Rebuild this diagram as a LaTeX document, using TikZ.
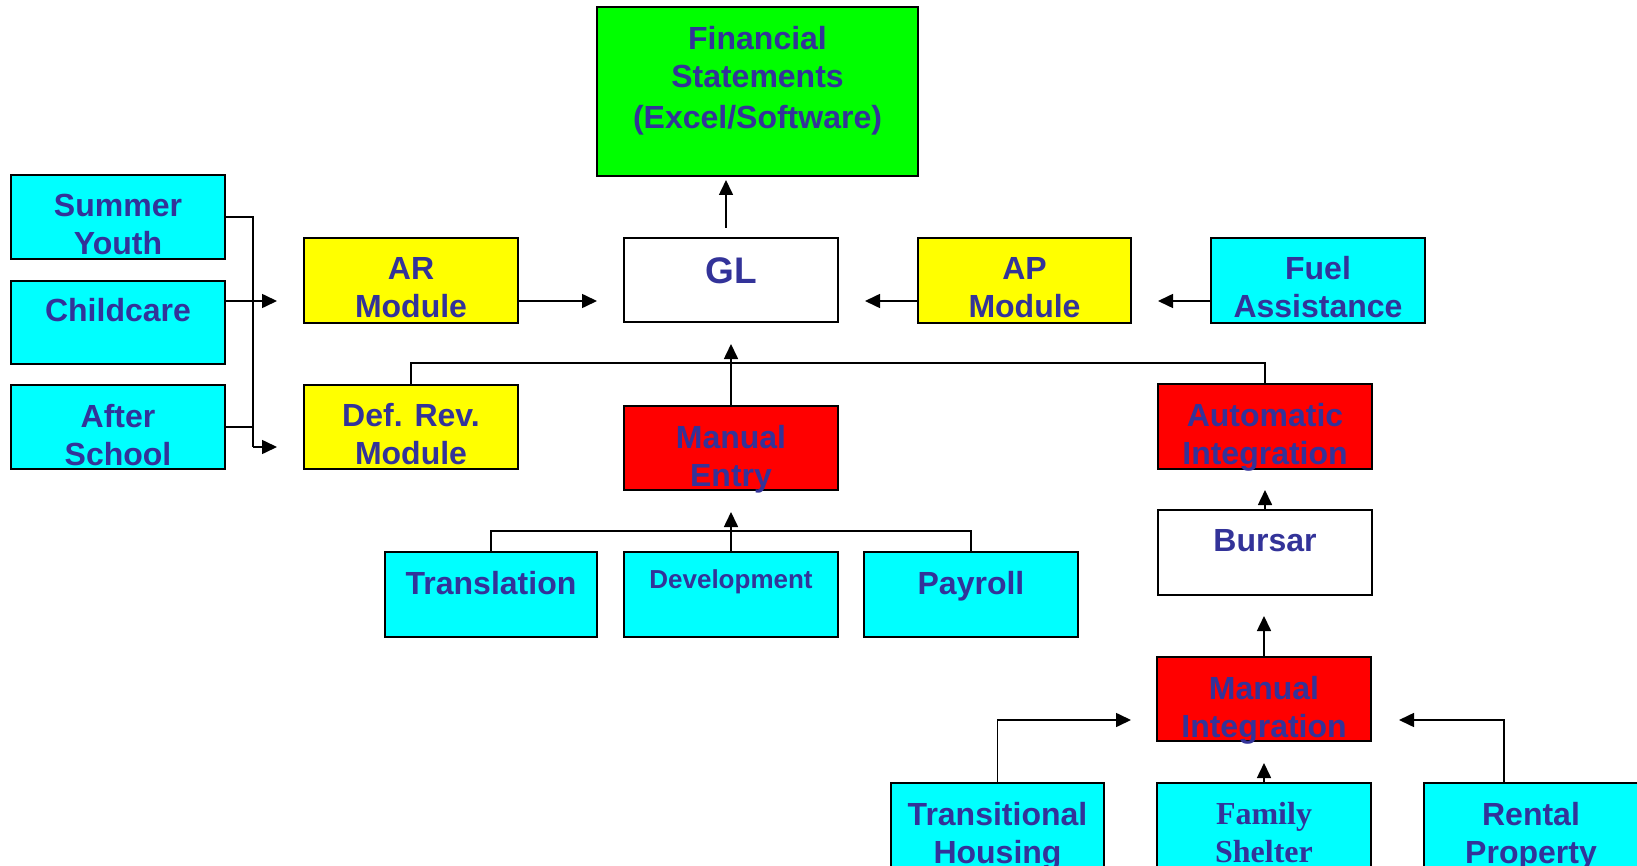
\documentclass[tikz,border=0pt]{standalone}
\usepackage{fontspec}
\setmainfont{Liberation Sans}
\newfontfamily\serifbold{Liberation Serif}
\usetikzlibrary{arrows.meta,calc}
\definecolor{txtblue}{RGB}{51,51,153}
\definecolor{boxcyan}{RGB}{0,255,255}
\definecolor{boxyellow}{RGB}{255,255,0}
\definecolor{boxgreen}{RGB}{0,255,0}
\definecolor{boxred}{RGB}{255,0,0}
\begin{document}
\begin{tikzpicture}[x=1pt,y=-1pt,
  box/.style={draw=black, line width=1.8pt, minimum width=214pt, minimum height=84pt, inner sep=0pt},
  lbl/.style={anchor=north, inner sep=0pt, align=center, text=txtblue, font=\fontsize{32}{38}\selectfont\bfseries},
  conn/.style={line width=1.6pt, draw=black},
  arr/.style={conn, -{Triangle[length=15pt,width=14pt]}},
]
\useasboundingbox (0,0) rectangle (1637,866);
\fill[white] (0,0) rectangle (1637,866);

% boxes
\node[box, fill=boxgreen, minimum width=321pt, minimum height=169pt] (fin) at (757.5,91.5) {};
\node[box, fill=boxcyan] (summer) at (118,217) {};
\node[box, fill=boxcyan, minimum height=83pt] (child) at (118,322.5) {};
\node[box, fill=boxcyan] (after) at (118,427) {};
\node[box, fill=boxyellow, minimum height=85pt] (ar) at (411,280.5) {};
\node[box, fill=white] (gl) at (731,280) {};
\node[box, fill=boxyellow, minimum width=213pt, minimum height=85pt] (ap) at (1024.5,280.5) {};
\node[box, fill=boxcyan, minimum height=85pt] (fuel) at (1318,280.5) {};
\node[box, fill=boxyellow] (defrev) at (411,427) {};
\node[box, fill=boxred] (mentry) at (731,448) {};
\node[box, fill=boxred, minimum height=85pt] (auto) at (1265,426.5) {};
\node[box, fill=white, minimum height=85pt] (bursar) at (1265,552.5) {};
\node[box, fill=boxcyan, minimum width=212pt, minimum height=85pt] (trans) at (491,594.5) {};
\node[box, fill=boxcyan, minimum height=85pt] (dev) at (731,594.5) {};
\node[box, fill=boxcyan, minimum height=85pt] (pay) at (971,594.5) {};
\node[box, fill=boxred] (minteg) at (1264,699) {};
\node[box, fill=boxcyan, minimum width=213pt, minimum height=85pt] (transh) at (997.5,825.5) {};
\node[box, fill=boxcyan, minimum height=85pt] (family) at (1264,825.5) {};
\node[box, fill=boxcyan, minimum height=85pt] (rental) at (1531,825.5) {};

% labels
\node[lbl] (finT) at ($(fin.north)+(0,20)$) {Financial\\Statements\\[3pt](Excel/Software)};
\node[lbl] (summerT) at ($(summer.north)+(0,20)$) {Summer\\Youth};
\node[lbl] (childT) at ($(child.north)+(0,18)$) {Childcare};
\node[lbl] (afterT) at ($(after.north)+(0,20)$) {After\\School};
\node[lbl] (arT) at ($(ar.north)+(0,20)$) {AR\\Module};
\node[lbl, font=\fontsize{37}{44}\selectfont\bfseries] (glT) at ($(gl.north)+(0,20)$) {GL};
\node[lbl] (apT) at ($(ap.north)+(0,20)$) {AP\\Module};
\node[lbl] (fuelT) at ($(fuel.north)+(0,19)$) {Fuel\\Assistance};
\node[lbl] (defrevT) at ($(defrev.north)+(0,19)$) {Def. Rev.\\Module};
\node[lbl] (mentryT) at ($(mentry.north)+(0,20)$) {Manual\\Entry};
\node[lbl] (autoT) at ($(auto.north)+(0,20)$) {Automatic\\Integration};
\node[lbl] (bursarT) at ($(bursar.north)+(0,20)$) {Bursar};
\node[lbl] (transT) at ($(trans.north)+(0,20)$) {Translation};
\node[lbl, font=\fontsize{26}{31}\selectfont\bfseries] (devT) at ($(dev.north)+(0,18)$) {Development};
\node[lbl] (payT) at ($(pay.north)+(0,20)$) {Payroll};
\node[lbl] (mintegT) at ($(minteg.north)+(0,20)$) {Manual\\Integration};
\node[lbl] (transhT) at ($(transh.north)+(0,20)$) {Transitional\\Housing};
\node[lbl, font=\fontsize{32}{38}\serifbold\bfseries] (familyT) at ($(family.north)+(0,20)$) {Family\\Shelter};
\node[lbl] (rentalT) at ($(rental.north)+(0,20)$) {Rental\\Property};

% arrow tips
\coordinate (tipAR) at (277,301);
\coordinate (tipDef) at (277,447);
\coordinate (tipGLl) at (597,301);
\coordinate (tipGLr) at (865,301);
\coordinate (tipAP) at (1158,301);
\coordinate (tipFin) at (726,180);
\coordinate (startFin) at (726,228);
\coordinate (tipGLb) at (731,344);
\coordinate (tipME) at (731,512);
\coordinate (tipAuto) at (1265,490);
\coordinate (tipBur) at (1264,616);
\coordinate (tipMIb) at (1264,763);
\coordinate (tipMIl) at (1131,720);
\coordinate (tipMIr) at (1399,720);

% connectors
\draw[conn] (summer.east) -- ++(27,0) -- ++(0,230);
\draw[arr] ($(summer.east)+(27,230)$) -- (tipDef);
\draw[arr] (child.east |- tipAR) -- (tipAR);
\draw[conn] (after.east) -- ++(27,0);
\draw[arr] (ar.east |- tipGLl) -- (tipGLl);
\draw[arr] (ap.west |- tipGLr) -- (tipGLr);
\draw[arr] (fuel.west |- tipAP) -- (tipAP);
\draw[arr] (startFin) -- (tipFin);
\draw[conn] (defrev.north) -- ++(0,-21) -| (auto.north);
\draw[arr] (mentry.north) -- (tipGLb);
\draw[conn] (trans.north) -- ++(0,-20) -| (pay.north);
\draw[arr] (dev.north) -- (tipME);
\draw[arr] (bursar.north) -- (tipAuto);
\draw[arr] (minteg.north) -- (tipBur);
\draw[arr] (family.north) -- (tipMIb);
\draw[arr] (transh.north) |- (tipMIl);
\draw[arr] ([xshift=-27pt]rental.north) |- (tipMIr);
\end{tikzpicture}
\end{document}
